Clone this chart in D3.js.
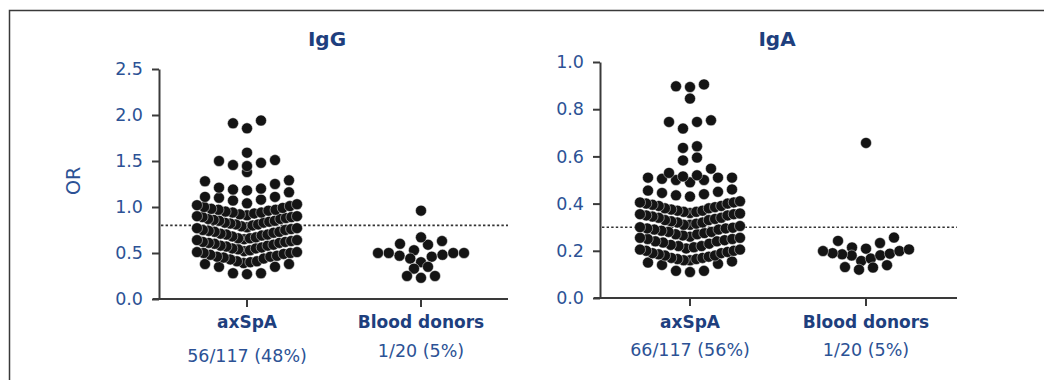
<!DOCTYPE html>
<html>
<head>
<meta charset="utf-8">
<script src="https://cdn.jsdelivr.net/npm/d3@7"></script>
<style>
  html, body { margin: 0; padding: 0; background: #fff; }
  svg { display: block; }
  text { font-family: "DejaVu Sans", "Open Sans", sans-serif; }
</style>
</head>
<body>
<svg id="chart" width="1044" height="380"></svg>
<script>
// ---------- data ----------
const categories = ["axSpA", "Blood donors"];
const panelTitles = ["IgG", "IgA"];
const yAxisLabel = "OR";

const iggTicks = [0, 0.5, 1.0, 1.5, 2.0, 2.5];
const igaTicks = [0, 0.2, 0.4, 0.6, 0.8, 1.0];

const iggCutoff = 0.8;
const igaCutoff = 0.3;

const iggPositive = ["56/117 (48%)", "1/20 (5%)"];
const igaPositive = ["66/117 (56%)", "1/20 (5%)"];

const iggAxSpA = [
  0.27, 0.28, 0.28, 0.35, 0.35, 0.38, 0.38,
  0.39, 0.40, 0.41, 0.41, 0.43, 0.44, 0.45, 0.46, 0.46, 0.47, 0.48, 0.49, 0.50, 0.50, 0.51, 0.51,
  0.52, 0.53, 0.54, 0.55, 0.55, 0.56, 0.57, 0.58, 0.58, 0.59, 0.60, 0.61, 0.61, 0.62, 0.62, 0.63, 0.64, 0.64,
  0.65, 0.66, 0.66, 0.67, 0.68, 0.69, 0.70, 0.70, 0.71, 0.72, 0.73, 0.73, 0.74, 0.75, 0.75, 0.76, 0.77, 0.77,
  0.78, 0.79, 0.80, 0.81, 0.81, 0.82, 0.83, 0.83, 0.84, 0.85, 0.85, 0.86, 0.87, 0.87, 0.88, 0.89, 0.89, 0.90, 0.90,
  0.91, 0.92, 0.93, 0.94, 0.94, 0.95, 0.96, 0.97, 0.97, 0.98, 0.99, 1.00, 1.01, 1.02, 1.03,
  1.04, 1.07, 1.08, 1.10, 1.11, 1.11, 1.16,
  1.18, 1.19, 1.20, 1.21, 1.25, 1.28, 1.29,
  1.38,
  1.445, 1.456, 1.48, 1.50, 1.51,
  1.59,
  1.855, 1.91, 1.94
];
const iggDonors = [
  0.96, 0.63, 0.59, 0.60, 0.67, 0.50, 0.47, 0.35, 0.44, 0.50,
  0.40, 0.50, 0.46, 0.48, 0.50, 0.33, 0.25, 0.23, 0.25, 0.53
];
const igaAxSpA = [
  0.11, 0.115, 0.115, 0.14, 0.145, 0.15, 0.155,
  0.16, 0.16, 0.165, 0.165, 0.17, 0.17, 0.175, 0.18, 0.18, 0.185, 0.19, 0.19, 0.195, 0.20, 0.20, 0.205, 0.205,
  0.21, 0.215, 0.22, 0.22, 0.225, 0.23, 0.235, 0.24, 0.24, 0.245, 0.25, 0.25, 0.255, 0.255,
  0.26, 0.265, 0.27, 0.27, 0.275, 0.28, 0.28, 0.285, 0.29, 0.29, 0.295, 0.295, 0.298, 0.30, 0.305,
  0.31, 0.31, 0.315, 0.32, 0.32, 0.325, 0.33, 0.33, 0.335, 0.34, 0.34, 0.345, 0.35, 0.35, 0.355, 0.355, 0.358,
  0.36, 0.365, 0.365, 0.37, 0.37, 0.375, 0.38, 0.38, 0.385, 0.39, 0.39, 0.395, 0.40, 0.40, 0.405, 0.405, 0.41,
  0.43, 0.435, 0.44, 0.445, 0.45, 0.455, 0.46,
  0.49, 0.50, 0.50, 0.505, 0.51, 0.51, 0.51,
  0.515, 0.52, 0.53, 0.548,
  0.583, 0.595,
  0.636, 0.643,
  0.718, 0.746, 0.746, 0.753,
  0.845,
  0.894, 0.897, 0.905
];
const igaDonors = [
  0.657, 0.256, 0.233, 0.242, 0.199, 0.188, 0.157, 0.181, 0.209, 0.18,
  0.214, 0.185, 0.199, 0.206, 0.167, 0.131, 0.12, 0.129, 0.139, 0.19
];

// ---------- layout / style ----------
const navy = "#1e3f7e";
const blue = "#2c5295";
const axisColor = "#3a3a3a";

const svg = d3.select("#chart");

// outer frame (left and top edges visible)
svg.append("path")
  .attr("d", "M9.5,382 L9.5,10.5 L1046,10.5")
  .attr("fill", "none").attr("stroke", axisColor).attr("stroke-width", 1.5);

// Prism-like row layout for scatter dots
function prismLayout(values, yScale, binOrigin, binH, cx, maxHalf, gap) {
  const groups = d3.groups(values, v => Math.floor((v - binOrigin) / binH + 1e-9));
  const pts = [];
  for (const [, vs] of groups) {
    const s = vs.slice().sort(d3.ascending);
    const n = s.length;
    const sp = n > 1 ? Math.min(gap, 2 * maxHalf / (n - 1)) : 0;
    s.forEach((v, i) => {
      let k;
      if (n % 2) k = i === 0 ? 0 : (i % 2 ? -(i + 1) / 2 : i / 2);
      else { const j = Math.floor(i / 2); k = (i % 2 ? 1 : -1) * (j + 0.5); }
      pts.push({ v, x: cx + k * sp, y: yScale(v) });
    });
  }
  return pts;
}

const panels = [
  {
    title: panelTitles[0], titleX: 327, ticks: iggTicks, fmt: d3.format(".1f"),
    yDomain: [0, 2.5], yRange: [299, 69], axisX: 159, xRange: [160, 508], xLineStart: 153, xLineEnd: 508,
    series: [iggAxSpA, iggDonors], cutoff: iggCutoff, positive: iggPositive,
    binOrigin: 0.255, binH: 0.13, subY: [362, 357], showYLabel: true
  },
  {
    title: panelTitles[1], titleX: 777, ticks: igaTicks, fmt: d3.format(".1f"),
    yDomain: [0, 1.0], yRange: [298, 62], axisX: 600, xRange: [602, 954], xLineStart: 594, xLineEnd: 957,
    series: [igaAxSpA, igaDonors], cutoff: igaCutoff, positive: igaPositive,
    binOrigin: 0.105, binH: 0.051, subY: [356, 356], showYLabel: false
  }
];
const maxHalfWidths = [50, 43];

panels.forEach(p => {
  const g = svg.append("g");
  const y = d3.scaleLinear().domain(p.yDomain).range(p.yRange);
  const x = d3.scaleBand().domain(categories).range(p.xRange).padding(0);

  // title
  g.append("text")
    .attr("x", p.titleX).attr("y", 46)
    .attr("text-anchor", "middle")
    .attr("font-size", 20).attr("font-weight", 700)
    .attr("fill", navy)
    .text(p.title);

  // y axis
  const yAxis = d3.axisLeft(y).tickValues(p.ticks).tickFormat(p.fmt).tickSize(7).tickSizeOuter(0).tickPadding(9);
  const ya = g.append("g").attr("transform", `translate(${p.axisX},0)`).call(yAxis);
  ya.select(".domain").attr("stroke", axisColor).attr("stroke-width", 2);
  ya.selectAll(".tick line").attr("stroke", axisColor).attr("stroke-width", 2);
  ya.selectAll(".tick text")
    .attr("font-family", "'DejaVu Sans', sans-serif")
    .attr("font-size", 17.5).attr("fill", blue);

  // x axis
  const xAxis = d3.axisBottom(x).tickSize(8).tickSizeOuter(0).tickFormat("");
  const xa = g.append("g").attr("transform", `translate(0,${y(0)})`).call(xAxis);
  xa.select(".domain").remove();
  xa.selectAll(".tick line").attr("stroke", axisColor).attr("stroke-width", 2);
  xa.selectAll(".tick").attr("transform", d => `translate(${x(d) + x.bandwidth() / 2},0)`);
  g.append("line")
    .attr("x1", p.xLineStart).attr("x2", p.xLineEnd)
    .attr("y1", y(0)).attr("y2", y(0))
    .attr("stroke", axisColor).attr("stroke-width", 2);

  // cutoff dotted line
  g.append("line")
    .attr("x1", p.axisX + 2).attr("x2", p.xLineEnd)
    .attr("y1", y(p.cutoff)).attr("y2", y(p.cutoff))
    .attr("stroke", "#333").attr("stroke-width", 1.6)
    .attr("stroke-dasharray", "2.4,2.2");

  // dots
  p.series.forEach((vals, i) => {
    const cx = x(categories[i]) + x.bandwidth() / 2;
    const pts = prismLayout(vals, y, p.binOrigin, p.binH, cx, maxHalfWidths[i], 14);
    g.append("g").selectAll("circle").data(pts).join("circle")
      .attr("cx", d => d.x).attr("cy", d => d.y).attr("r", 5.5)
      .attr("fill", "#141414").attr("stroke", "#fff").attr("stroke-width", 0.45);
  });

  // category labels
  categories.forEach((c, i) => {
    const cx = x(c) + x.bandwidth() / 2;
    g.append("text")
      .attr("x", cx).attr("y", 328).attr("text-anchor", "middle")
      .attr("font-size", 17).attr("font-weight", 700).attr("fill", navy)
      .text(c);
    g.append("text")
      .attr("x", cx).attr("y", p.subY[i]).attr("text-anchor", "middle")
      .attr("font-size", 17.5).attr("fill", blue)
      .text(p.positive[i]);
  });

  if (p.showYLabel) {
    g.append("text")
      .attr("transform", `translate(80,${(p.yRange[0] + p.yRange[1]) / 2 - 3}) rotate(-90)`)
      .attr("text-anchor", "middle")
      .attr("font-size", 19).attr("fill", blue)
      .text(yAxisLabel);
  }
});
</script>
</body>
</html>
